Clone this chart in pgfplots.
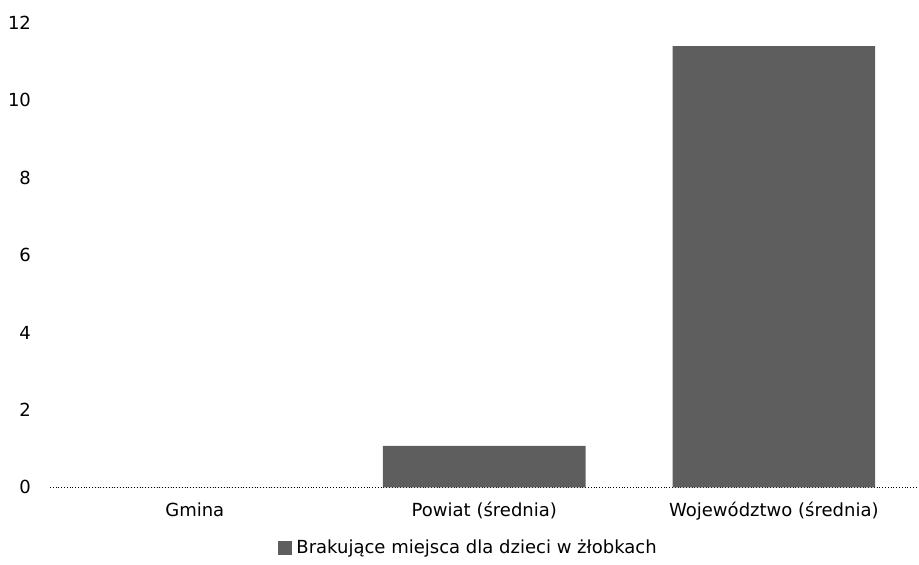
\documentclass[border=0pt]{standalone}
\usepackage{fontspec}
\setmainfont{DejaVu Sans}
\usepackage{pgfplots}
\pgfplotsset{compat=1.18}
\definecolor{barfill}{HTML}{5E5E5E}
\definecolor{baseline}{HTML}{B0B0B0}

\begin{document}
\begin{tikzpicture}
\begin{axis}[
    scale only axis,
    width=434pt,
    height=232pt,
    font=\fontsize{9}{11}\selectfont,
    ybar,
    bar width=0.7,
    xmin=-0.5, xmax=2.5,
    ymin=0, ymax=12,
    ytick={0,2,...,12},
    xtick={0,1,2},
    xticklabels={Gmina, Powiat (średnia), Województwo (średnia)},
    /pgf/number format/assume math mode=true,
    axis x line*=bottom,
    axis y line*=left,
    x axis line style={baseline, densely dotted, -},
    y axis line style={draw=none},
    major tick length=0pt,
    yticklabel style={xshift=-6pt},
    xticklabel style={yshift=-4pt},
    legend style={
        at={(0.483,-0.095)}, anchor=north, draw=none,
        font=\fontsize{9}{11}\selectfont,
    },
    legend image code/.code={
        \fill[barfill] (0pt,-3.5pt) rectangle (7pt,3.5pt);
    },
]
    \addplot[fill=barfill, draw=none] coordinates {
        (0,0)
        (1,1.07)
        (2,11.4)
    };
    \addlegendentry{Brakujące miejsca dla dzieci w żłobkach}
\end{axis}
\path (current axis.south west) ++(-25pt,-37pt) coordinate (bbl);
\path (current axis.north east) ++(0pt,11.5pt) coordinate (bbr);
\path[use as bounding box] (bbl) rectangle (bbr);
\end{tikzpicture}
\end{document}
